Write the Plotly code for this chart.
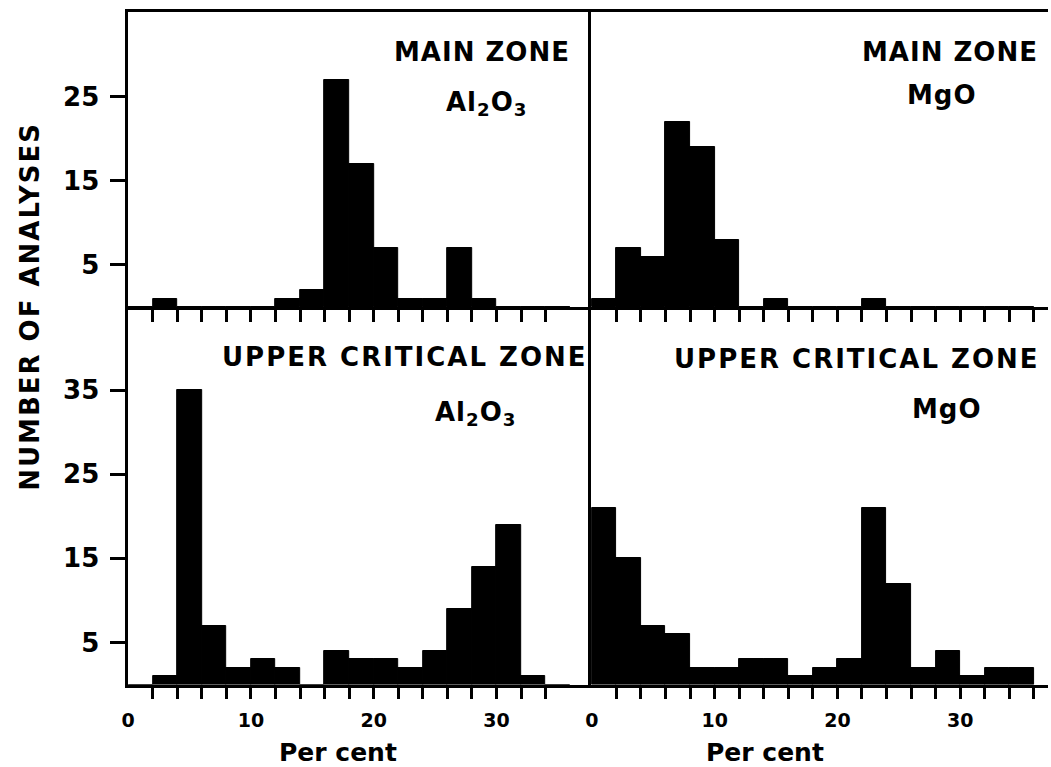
import plotly.graph_objects as go

W, H = 1051, 767

# ---------------- data ----------------
bin_starts = list(range(0, 36, 2))          # 2 %-wide classes, 0-36 %
bin_width = 2
main_al2o3 = [0, 1, 0, 0, 0, 0, 1, 2, 27, 17, 7, 1, 1, 7, 1, 0, 0, 0]
main_mgo   = [1, 7, 6, 22, 19, 8, 0, 1, 0, 0, 0, 1, 0, 0, 0, 0, 0, 0]
ucz_al2o3  = [0, 1, 35, 7, 2, 3, 2, 0, 4, 3, 3, 2, 4, 9, 14, 19, 1, 0]
ucz_mgo    = [21, 15, 7, 6, 2, 2, 3, 3, 1, 2, 3, 21, 12, 2, 4, 1, 2, 2]

y_ticks_top = [5, 15, 25]
y_ticks_bottom = [5, 15, 25, 35]
x_minor_left = list(range(2, 35, 2))
x_minor_right = list(range(2, 37, 2))
x_label_vals = [0, 10, 20, 30]
x_label_text = ["0", "10", "20", "30"]

FONT = "DejaVu Sans"

def px(p):
    return p / W

def py(p):
    return 1 - p / H

dom_xl = [px(122), px(588)]
dom_xr = [px(588), px(1048)]
dom_yt = [py(307), py(12)]
dom_yb = [py(684.5), py(307)]

range_xl = [0, 37.7]
range_xr = [-0.06, 37.15]
range_yt = [0, 35.1]
range_yb = [0, 44.9]

fig = go.Figure()

panels = [
    (main_al2o3, "x", "y"),
    (main_mgo, "x2", "y2"),
    (ucz_al2o3, "x3", "y3"),
    (ucz_mgo, "x4", "y4"),
]
for counts, xa, ya in panels:
    fig.add_trace(go.Bar(x=bin_starts, y=counts, width=bin_width, offset=0,
                         marker=dict(color="black", line=dict(width=1, color="black")),
                         xaxis=xa, yaxis=ya, showlegend=False, hoverinfo="skip"))

# empty traces so that the label-only overlay axes get drawn
fig.add_trace(go.Scatter(x=[], y=[], xaxis="x5", yaxis="y3", showlegend=False))
fig.add_trace(go.Scatter(x=[], y=[], xaxis="x6", yaxis="y4", showlegend=False))

LW = 2.5

def xaxis_common(dom, rng, tv, anchor, mirror):
    return dict(domain=dom, range=rng, anchor=anchor, showline=True, linecolor="black",
                linewidth=LW, mirror=mirror, tickmode="array", tickvals=tv,
                ticks="outside", ticklen=12, tickwidth=3, tickcolor="black",
                showticklabels=False, showgrid=False, zeroline=False, fixedrange=True)

def yaxis_common(dom, rng, tv, anchor, labels):
    return dict(domain=dom, range=rng, anchor=anchor, showline=True, linecolor="black",
                linewidth=LW, tickmode="array", tickvals=tv if labels else [],
                ticks="outside" if labels else "", ticklen=15, tickwidth=2.5,
                tickcolor="black", showticklabels=labels, ticklabelstandoff=6,
                tickfont=dict(family=FONT, size=26, color="black", weight="bold"),
                showgrid=False, zeroline=False, fixedrange=True)

label_axis = dict(tickmode="array", tickvals=x_label_vals, ticktext=x_label_text,
                  ticks="outside", ticklen=19, tickcolor="rgba(0,0,0,0)",
                  showline=False, showgrid=False, zeroline=False, side="bottom",
                  tickfont=dict(family=FONT, size=19, color="black", weight="bold"),
                  fixedrange=True)

fig.update_layout(
    width=W, height=H, margin=dict(l=0, r=0, t=0, b=0, pad=0),
    paper_bgcolor="white", plot_bgcolor="white", bargap=0,
    xaxis=xaxis_common(dom_xl, range_xl, x_minor_left, "y", True),
    xaxis2=xaxis_common(dom_xr, range_xr, x_minor_right, "y2", True),
    xaxis3=xaxis_common(dom_xl, range_xl, x_minor_left, "y3", False),
    xaxis4=xaxis_common(dom_xr, range_xr, x_minor_right, "y4", False),
    xaxis5=dict(label_axis, overlaying="x3", anchor="y3", range=range_xl),
    xaxis6=dict(label_axis, overlaying="x4", anchor="y4", range=range_xr),
    yaxis=yaxis_common(dom_yt, range_yt, y_ticks_top, "x", True),
    yaxis2=yaxis_common(dom_yt, range_yt, y_ticks_top, "x2", False),
    yaxis3=yaxis_common(dom_yb, range_yb, y_ticks_bottom, "x3", True),
    yaxis4=yaxis_common(dom_yb, range_yb, y_ticks_bottom, "x4", False),
)

def label(text, x, y, size=26, angle=0, spacing=2):
    fig.add_annotation(
        text=f"<span style='letter-spacing:{spacing}px'><b>{text}</b></span>",
        x=px(x), y=py(y), xref="paper", yref="paper", xanchor="center", yanchor="middle",
        showarrow=False, textangle=angle,
        font=dict(family=FONT, size=size, color="black"))

label("MAIN ZONE", 478, 52, spacing=1)
label("Al<sub>2</sub>O<sub>3</sub>", 483, 104, spacing=1)
label("MAIN ZONE", 949, 52, spacing=1)
label("MgO", 941, 95, spacing=1)
label("UPPER CRITICAL ZONE", 401, 357)
label("Al<sub>2</sub>O<sub>3</sub>", 472, 414, spacing=1)
label("UPPER CRITICAL ZONE", 856, 359)
label("MgO", 946, 409, spacing=1)
label("Per cent", 333, 752, size=25, spacing=0)
label("Per cent", 763, 752, size=25, spacing=0)
label("NUMBER OF ANALYSES", 23, 306, size=26, angle=-90)

fig.write_html("out.html")
